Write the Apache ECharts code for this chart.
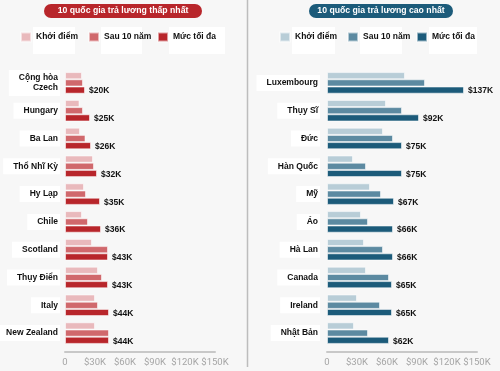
<!DOCTYPE html>
<html><head><meta charset="utf-8">
<script src="https://cdn.jsdelivr.net/npm/echarts@6/dist/echarts.min.js"></script>
<style>html,body{margin:0;padding:0;background:#f7f7f7}#c{width:500px;height:371px}</style>
</head><body><div id="c"></div>
<script>
const categoriesLow = ['Cộng hòa\nCzech','Hungary','Ba Lan','Thổ Nhĩ Kỳ','Hy Lạp','Chile','Scotland','Thụy Điển','Italy','New Zealand'];
const startLow = [17,14.5,15,28,19,17,27,33,30,30];
const after10Low = [18,18,20.5,29,21,23,43,37,33,44];
const maxLow = [20,25,26,32,35,36,43,43,44,44];

const categoriesHigh = ['Luxembourg','Thụy Sĩ','Đức','Hàn Quốc','Mỹ','Áo','Hà Lan','Canada','Ireland','Nhật Bản'];
const startHigh = [78,59,56,26,43,34,37,39,30,27];
const after10High = [98,75,66,39,54,41,56,62,53,41];
const maxHigh = [137,92,75,75,67,66,66,65,65,62];

const seriesNames = ['Khởi điểm','Sau 10 năm','Mức tối đa'];
const titleLow = '10 quốc gia trả lương thấp nhất';
const titleHigh = '10 quốc gia trả lương cao nhất';
const xTicks = [0,30,60,90,120,150];

const colorsLow = ['#e9b9bc','#d0686c','#b8262b'];
const colorsHigh = ['#b8cdd7','#5c8aa1','#1c5b7a'];
const F = 'Liberation Sans';

const chart = echarts.init(document.getElementById('c'));

function legendCfg(left, name, color){
  return {
    left: left, top: 31.5, padding: 0, icon: 'rect', itemWidth: 10, itemHeight: 9,
    selectedMode: false,
    data: [{name:name, itemStyle:{color:color}}],
    formatter: n => n.trim(),
    textStyle: {fontFamily: F, fontWeight: 'bold', fontSize: 8.5, color: '#111'}
  };
}
function xAxisCfg(gi){
  return {gridIndex: gi, type:'value', min: xTicks[0], max: xTicks[xTicks.length-1], interval: 30,
    offset: 5,
    axisLine:{show:true, lineStyle:{color:'#c8c8c8', width:2}}, axisTick:{show:false},
    splitLine:{show:false},
    axisLabel:{color:'#a5a5a5', fontFamily:'Roboto', fontSize:9.5, margin:6,
      formatter: v => v===0 ? '0' : '$'+v+'K'}};
}
function yAxisCfg(gi, cats, margin){
  return {gridIndex: gi, type:'category', data: cats, inverse: true,
    axisLine:{show:false}, axisTick:{show:false},
    axisLabel:{fontFamily:F, fontWeight:'bold', fontSize:8.5, color:'#111', margin: margin,
      lineHeight: 10, backgroundColor:'#fff', padding:[3,2,3,10], align:'right'}};
}
function barSeries(name, gi, data, color, isMax){
  const s = {name: name, type:'bar', xAxisIndex: gi, yAxisIndex: gi, data: data,
    barWidth: 7.2, barGap: '0%', barCategoryGap: '22%',
    itemStyle:{color: color, borderColor:'rgba(255,255,255,0.55)', borderWidth:1},
    animation:false};
  if (isMax) s.label = {show:true, position:'right', distance:4, offset:[0,1],
    fontFamily:F, fontWeight:'bold', fontSize:8.5, color:'#111', formatter: p => '$'+p.value+'K'};
  return s;
}
const namesHigh = seriesNames.map(n => n + ' ');

// legend white boxes (decorative panels behind legend texts)
const legendBoxes = [[33,42],[101,41],[169,56],[292,43],[360,42],[429,48]];

chart.setOption({
  backgroundColor:'#f7f7f7',
  animation:false,
  legend:[
    legendCfg(20, seriesNames[0], colorsLow[0]), legendCfg(88, seriesNames[1], colorsLow[1]), legendCfg(157, seriesNames[2], colorsLow[2]),
    legendCfg(279, namesHigh[0], colorsHigh[0]), legendCfg(347, namesHigh[1], colorsHigh[1]), legendCfg(416, namesHigh[2], colorsHigh[2])
  ],
  grid:[{left:65, width:150, top:69, height:278, outerBoundsMode:'none', containLabel:false},
        {left:327, width:150, top:69, height:278, outerBoundsMode:'none', containLabel:false}],
  xAxis:[xAxisCfg(0), xAxisCfg(1)],
  yAxis:[yAxisCfg(0, categoriesLow, 5), yAxisCfg(1, categoriesHigh, 7)],
  series:[
    barSeries(seriesNames[0],0,startLow,colorsLow[0],false),
    barSeries(seriesNames[1],0,after10Low,colorsLow[1],false),
    barSeries(seriesNames[2],0,maxLow,colorsLow[2],true),
    barSeries(namesHigh[0],1,startHigh,colorsHigh[0],false),
    barSeries(namesHigh[1],1,after10High,colorsHigh[1],false),
    barSeries(namesHigh[2],1,maxHigh,colorsHigh[2],true)
  ],
  graphic:[
    {type:'line', shape:{x1:247.5,y1:0,x2:247.5,y2:367}, style:{stroke:'#bdbdbd', lineWidth:1.5}},
    {type:'rect', shape:{x:44,y:4,width:158,height:14,r:7}, style:{fill:'#b8262b'}},
    {type:'text', x:123, y:11, style:{text:titleLow, fill:'#fff', font:'bold 8.7px "Liberation Sans"', textAlign:'center', textVerticalAlign:'middle'}},
    {type:'rect', shape:{x:309,y:4,width:144,height:14,r:7}, style:{fill:'#1c5b7a'}},
    {type:'text', x:381, y:11, style:{text:titleHigh, fill:'#fff', font:'bold 8.7px "Liberation Sans"', textAlign:'center', textVerticalAlign:'middle'}}
  ].concat(legendBoxes.map(b => ({type:'rect', z:-1, shape:{x:b[0], y:27, width:b[1], height:27}, style:{fill:'#fff'}})))
});
</script></body></html>
